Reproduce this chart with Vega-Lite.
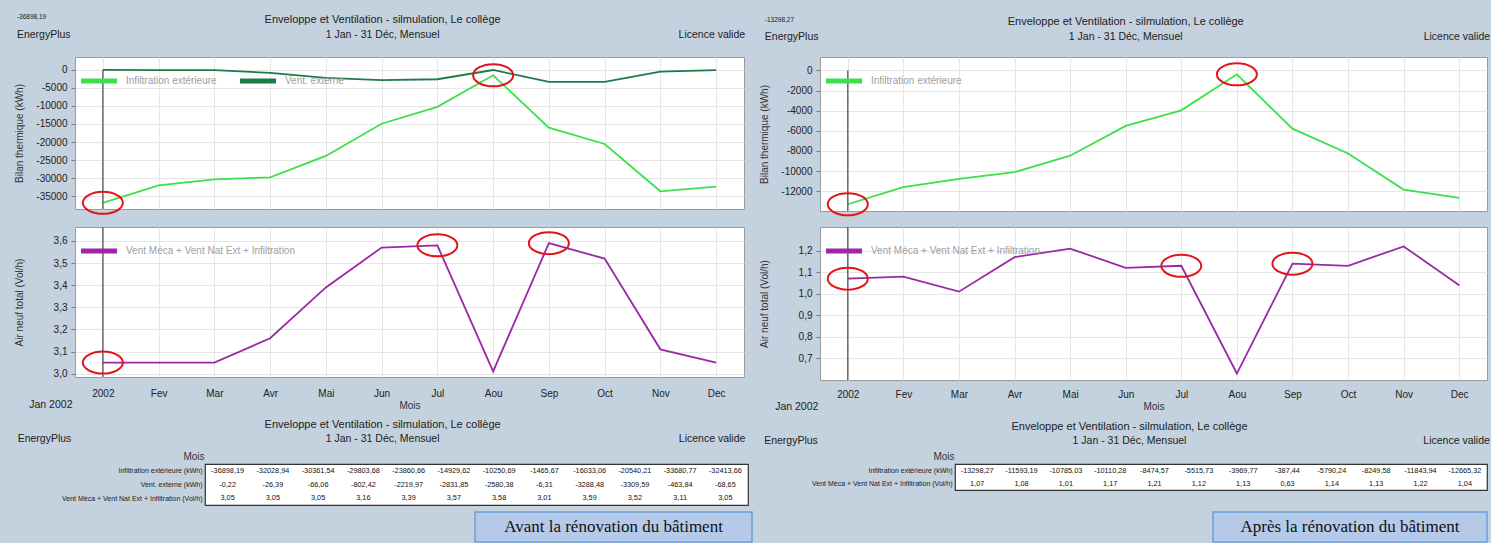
{
  "$schema": "https://vega.github.io/schema/vega-lite/v6.json",
  "background": "#c4d1de",
  "padding": {"left": 10, "top": 13, "right": 0, "bottom": 0},
  "config": {
    "font": "Liberation Sans",
    "locale": {"number": {"decimal": ",", "thousands": "", "grouping": [3], "currency": ["", " €"], "minus": "-"}},
    "view": {"stroke": "#9a9a9a"},
    "axis": {"labelFontSize": 10, "labelColor": "#222", "titleFontSize": 10, "titleFontWeight": "normal", "titleColor": "#333", "tickColor": "#777", "domain": false, "gridColor": "#e6e6e6", "labelOverlap": false},
    "legend": {"orient": "top-left", "direction": "horizontal", "title": null, "symbolType": "stroke", "symbolStrokeWidth": 5, "symbolSize": 1300, "labelFontSize": 10, "labelColor": "#a0a0a0", "labelLimit": 400, "offset": 3, "padding": 0, "columnPadding": 12, "labelOffset": 6},
    "text": {"color": "#222"}
  },
  "datasets": {
    "avant": [
      {"mois": "2002", "serie": "Infiltration extérieure", "v": -36898.19},
      {"mois": "Fev", "serie": "Infiltration extérieure", "v": -32028.94},
      {"mois": "Mar", "serie": "Infiltration extérieure", "v": -30361.54},
      {"mois": "Avr", "serie": "Infiltration extérieure", "v": -29803.68},
      {"mois": "Mai", "serie": "Infiltration extérieure", "v": -23860.66},
      {"mois": "Jun", "serie": "Infiltration extérieure", "v": -14929.62},
      {"mois": "Jul", "serie": "Infiltration extérieure", "v": -10250.69},
      {"mois": "Aou", "serie": "Infiltration extérieure", "v": -1465.67},
      {"mois": "Sep", "serie": "Infiltration extérieure", "v": -16033.06},
      {"mois": "Oct", "serie": "Infiltration extérieure", "v": -20540.21},
      {"mois": "Nov", "serie": "Infiltration extérieure", "v": -33680.77},
      {"mois": "Dec", "serie": "Infiltration extérieure", "v": -32413.66},
      {"mois": "2002", "serie": "Vent. externe", "v": -0.22},
      {"mois": "Fev", "serie": "Vent. externe", "v": -26.39},
      {"mois": "Mar", "serie": "Vent. externe", "v": -66.06},
      {"mois": "Avr", "serie": "Vent. externe", "v": -802.42},
      {"mois": "Mai", "serie": "Vent. externe", "v": -2219.97},
      {"mois": "Jun", "serie": "Vent. externe", "v": -2831.85},
      {"mois": "Jul", "serie": "Vent. externe", "v": -2580.38},
      {"mois": "Aou", "serie": "Vent. externe", "v": -6.31},
      {"mois": "Sep", "serie": "Vent. externe", "v": -3288.48},
      {"mois": "Oct", "serie": "Vent. externe", "v": -3309.59},
      {"mois": "Nov", "serie": "Vent. externe", "v": -463.84},
      {"mois": "Dec", "serie": "Vent. externe", "v": -68.65},
      {"mois": "2002", "serie": "Vent Méca + Vent Nat Ext + Infiltration", "v": 3.05},
      {"mois": "Fev", "serie": "Vent Méca + Vent Nat Ext + Infiltration", "v": 3.05},
      {"mois": "Mar", "serie": "Vent Méca + Vent Nat Ext + Infiltration", "v": 3.05},
      {"mois": "Avr", "serie": "Vent Méca + Vent Nat Ext + Infiltration", "v": 3.16},
      {"mois": "Mai", "serie": "Vent Méca + Vent Nat Ext + Infiltration", "v": 3.39},
      {"mois": "Jun", "serie": "Vent Méca + Vent Nat Ext + Infiltration", "v": 3.57},
      {"mois": "Jul", "serie": "Vent Méca + Vent Nat Ext + Infiltration", "v": 3.58},
      {"mois": "Aou", "serie": "Vent Méca + Vent Nat Ext + Infiltration", "v": 3.01},
      {"mois": "Sep", "serie": "Vent Méca + Vent Nat Ext + Infiltration", "v": 3.59},
      {"mois": "Oct", "serie": "Vent Méca + Vent Nat Ext + Infiltration", "v": 3.52},
      {"mois": "Nov", "serie": "Vent Méca + Vent Nat Ext + Infiltration", "v": 3.11},
      {"mois": "Dec", "serie": "Vent Méca + Vent Nat Ext + Infiltration", "v": 3.05}
    ],
    "apres": [
      {"mois": "2002", "serie": "Infiltration extérieure", "v": -13298.27},
      {"mois": "Fev", "serie": "Infiltration extérieure", "v": -11593.19},
      {"mois": "Mar", "serie": "Infiltration extérieure", "v": -10785.03},
      {"mois": "Avr", "serie": "Infiltration extérieure", "v": -10110.28},
      {"mois": "Mai", "serie": "Infiltration extérieure", "v": -8474.57},
      {"mois": "Jun", "serie": "Infiltration extérieure", "v": -5515.73},
      {"mois": "Jul", "serie": "Infiltration extérieure", "v": -3969.77},
      {"mois": "Aou", "serie": "Infiltration extérieure", "v": -387.44},
      {"mois": "Sep", "serie": "Infiltration extérieure", "v": -5790.24},
      {"mois": "Oct", "serie": "Infiltration extérieure", "v": -8249.58},
      {"mois": "Nov", "serie": "Infiltration extérieure", "v": -11843.94},
      {"mois": "Dec", "serie": "Infiltration extérieure", "v": -12665.32},
      {"mois": "2002", "serie": "Vent Méca + Vent Nat Ext + Infiltration", "v": 1.07},
      {"mois": "Fev", "serie": "Vent Méca + Vent Nat Ext + Infiltration", "v": 1.08},
      {"mois": "Mar", "serie": "Vent Méca + Vent Nat Ext + Infiltration", "v": 1.01},
      {"mois": "Avr", "serie": "Vent Méca + Vent Nat Ext + Infiltration", "v": 1.17},
      {"mois": "Mai", "serie": "Vent Méca + Vent Nat Ext + Infiltration", "v": 1.21},
      {"mois": "Jun", "serie": "Vent Méca + Vent Nat Ext + Infiltration", "v": 1.12},
      {"mois": "Jul", "serie": "Vent Méca + Vent Nat Ext + Infiltration", "v": 1.13},
      {"mois": "Aou", "serie": "Vent Méca + Vent Nat Ext + Infiltration", "v": 0.63},
      {"mois": "Sep", "serie": "Vent Méca + Vent Nat Ext + Infiltration", "v": 1.14},
      {"mois": "Oct", "serie": "Vent Méca + Vent Nat Ext + Infiltration", "v": 1.13},
      {"mois": "Nov", "serie": "Vent Méca + Vent Nat Ext + Infiltration", "v": 1.22},
      {"mois": "Dec", "serie": "Vent Méca + Vent Nat Ext + Infiltration", "v": 1.04}
    ]
  },
  "bounds": "full",
  "spacing": 0,
  "resolve": {"scale": {"color": "independent"}, "legend": {"color": "independent"}},
  "vconcat": [
    {
      "bounds": "flush",
      "spacing": 0,
      "resolve": {"scale": {"color": "independent"}, "legend": {"color": "independent"}},
      "hconcat": [
        {"width": 65, "height": 164, "data": {"values": [{}]}, "mark": {"type": "text", "text": ""}, "view": {"stroke": null}},
        {
          "width": 669,
          "height": 152,
          "data": {"name": "avant"},
          "view": {"stroke": "#9a9a9a", "fill": "white"},
          "layer": [
            {
              "transform": [{"filter": "datum.serie != 'Vent Méca + Vent Nat Ext + Infiltration'"}],
              "mark": {"type": "line", "strokeWidth": 1.8},
              "encoding": {
                "x": {"field": "mois", "type": "ordinal", "scale": {"type": "point", "padding": 0.5, "domain": ["2002", "Fev", "Mar", "Avr", "Mai", "Jun", "Jul", "Aou", "Sep", "Oct", "Nov", "Dec"]}, "axis": {"title": null, "labels": false, "ticks": false, "domain": false, "grid": true, "minExtent": 0, "maxExtent": 0}},
                "y": {"field": "v", "type": "quantitative", "scale": {"domain": [-38600, 3600], "nice": false, "zero": false}, "axis": {"title": "Bilan thermique (kWh)", "values": [0, -5000, -10000, -15000, -20000, -25000, -30000, -35000], "tickCount": 30, "format": "d", "labelOverlap": false, "labelBound": false, "minExtent": 40, "maxExtent": 40, "titlePadding": 11, "tickSize": 4, "labelPadding": 4, "grid": true}},
                "color": {"field": "serie", "type": "nominal", "scale": {"domain": ["Infiltration extérieure", "Vent. externe"], "range": ["#3be04a", "#1e7b46"]}}
              }
            },
            {
              "transform": [{"filter": "datum.mois == '2002' && datum.serie == 'Infiltration extérieure'"}],
              "mark": {"type": "rule", "color": "#555", "strokeWidth": 1.3},
              "encoding": {"x": {"field": "mois", "type": "ordinal"}, "y": {"datum": 0}, "y2": {"datum": -38600}}
            },
            {
              "transform": [{"filter": {"and": [{"field": "serie", "equal": "Infiltration extérieure"}, {"field": "mois", "oneOf": ["2002", "Aou"]}]}}],
              "mark": {"type": "point", "shape": "M -1 0 A 1 0.55 0 1 0 1 0 A 1 0.55 0 1 0 -1 0 Z", "size": 1600, "filled": false, "stroke": "#e3151b", "strokeWidth": 2, "opacity": 1},
              "encoding": {"x": {"field": "mois", "type": "ordinal"}, "y": {"field": "v", "type": "quantitative"}}
            },
            {
              "transform": [{"filter": "datum.mois == '2002' && datum.serie == 'Infiltration extérieure'"}],
              "mark": {"type": "text", "align": "left", "baseline": "middle", "fontSize": 6.5, "dx": -86, "dy": -40},
              "encoding": {"x": {"field": "mois", "type": "ordinal"}, "y": {"datum": 3600}, "text": {"field": "v", "type": "quantitative", "format": ".2f"}}
            },
            {
              "transform": [{"filter": "datum.mois == '2002' && datum.serie == 'Infiltration extérieure'"}],
              "mark": {"type": "text", "align": "left", "baseline": "middle", "fontSize": 10.5, "dx": -86, "dy": -22, "text": "EnergyPlus"},
              "encoding": {"x": {"field": "mois", "type": "ordinal"}, "y": {"datum": 3600}}
            },
            {
              "transform": [{"filter": "datum.mois == 'Jun' && datum.serie == 'Infiltration extérieure'"}],
              "mark": {"type": "text", "align": "center", "baseline": "middle", "fontSize": 11, "dx": 1, "dy": -37, "text": "Enveloppe et Ventilation - silmulation, Le collège"},
              "encoding": {"x": {"field": "mois", "type": "ordinal"}, "y": {"datum": 3600}}
            },
            {
              "transform": [{"filter": "datum.mois == 'Jun' && datum.serie == 'Infiltration extérieure'"}],
              "mark": {"type": "text", "align": "center", "baseline": "middle", "fontSize": 10.5, "dx": 1, "dy": -22, "text": "1 Jan - 31 Déc, Mensuel"},
              "encoding": {"x": {"field": "mois", "type": "ordinal"}, "y": {"datum": 3600}}
            },
            {
              "transform": [{"filter": "datum.mois == 'Dec' && datum.serie == 'Infiltration extérieure'"}],
              "mark": {"type": "text", "align": "right", "baseline": "middle", "fontSize": 10.5, "dx": 29, "dy": -22, "text": "Licence valide"},
              "encoding": {"x": {"field": "mois", "type": "ordinal"}, "y": {"datum": 3600}}
            }
          ]
        },
        {"width": 76, "height": 1, "data": {"values": [{}]}, "mark": {"type": "text", "text": ""}, "view": {"stroke": null}},
        {
          "width": 667,
          "height": 154,
          "data": {"name": "apres"},
          "view": {"stroke": "#9a9a9a", "fill": "white"},
          "layer": [
            {
              "transform": [{"filter": "datum.serie == 'Infiltration extérieure'"}],
              "mark": {"type": "line", "strokeWidth": 1.8},
              "encoding": {
                "x": {"field": "mois", "type": "ordinal", "scale": {"type": "point", "padding": 0.5, "domain": ["2002", "Fev", "Mar", "Avr", "Mai", "Jun", "Jul", "Aou", "Sep", "Oct", "Nov", "Dec"]}, "axis": {"title": null, "labels": false, "ticks": false, "domain": false, "grid": true, "minExtent": 0, "maxExtent": 0}},
                "y": {"field": "v", "type": "quantitative", "scale": {"domain": [-13970, 1330], "nice": false, "zero": false}, "axis": {"title": "Bilan thermique (kWh)", "values": [0, -2000, -4000, -6000, -8000, -10000, -12000], "tickCount": 30, "format": "d", "labelOverlap": false, "labelBound": false, "minExtent": 40, "maxExtent": 40, "titlePadding": 11, "tickSize": 4, "labelPadding": 4, "grid": true}},
                "color": {"field": "serie", "type": "nominal", "scale": {"domain": ["Infiltration extérieure"], "range": ["#3be04a"]}}
              }
            },
            {
              "transform": [{"filter": "datum.mois == '2002' && datum.serie == 'Infiltration extérieure'"}],
              "mark": {"type": "rule", "color": "#555", "strokeWidth": 1.3},
              "encoding": {"x": {"field": "mois", "type": "ordinal"}, "y": {"datum": 0}, "y2": {"datum": -13970}}
            },
            {
              "transform": [{"filter": {"and": [{"field": "serie", "equal": "Infiltration extérieure"}, {"field": "mois", "oneOf": ["2002", "Aou"]}]}}],
              "mark": {"type": "point", "shape": "M -1 0 A 1 0.55 0 1 0 1 0 A 1 0.55 0 1 0 -1 0 Z", "size": 1600, "filled": false, "stroke": "#e3151b", "strokeWidth": 2, "opacity": 1},
              "encoding": {"x": {"field": "mois", "type": "ordinal"}, "y": {"field": "v", "type": "quantitative"}}
            },
            {
              "transform": [{"filter": "datum.mois == '2002' && datum.serie == 'Infiltration extérieure'"}],
              "mark": {"type": "text", "align": "left", "baseline": "middle", "fontSize": 6.5, "dx": -83, "dy": -37},
              "encoding": {"x": {"field": "mois", "type": "ordinal"}, "y": {"datum": 1330}, "text": {"field": "v", "type": "quantitative", "format": ".2f"}}
            },
            {
              "transform": [{"filter": "datum.mois == '2002' && datum.serie == 'Infiltration extérieure'"}],
              "mark": {"type": "text", "align": "left", "baseline": "middle", "fontSize": 10.5, "dx": -83, "dy": -20, "text": "EnergyPlus"},
              "encoding": {"x": {"field": "mois", "type": "ordinal"}, "y": {"datum": 1330}}
            },
            {
              "transform": [{"filter": "datum.mois == 'Jun' && datum.serie == 'Infiltration extérieure'"}],
              "mark": {"type": "text", "align": "center", "baseline": "middle", "fontSize": 11, "dx": 0, "dy": -35, "text": "Enveloppe et Ventilation - silmulation, Le collège"},
              "encoding": {"x": {"field": "mois", "type": "ordinal"}, "y": {"datum": 1330}}
            },
            {
              "transform": [{"filter": "datum.mois == 'Jun' && datum.serie == 'Infiltration extérieure'"}],
              "mark": {"type": "text", "align": "center", "baseline": "middle", "fontSize": 10.5, "dx": 0, "dy": -20, "text": "1 Jan - 31 Déc, Mensuel"},
              "encoding": {"x": {"field": "mois", "type": "ordinal"}, "y": {"datum": 1330}}
            },
            {
              "transform": [{"filter": "datum.mois == 'Dec' && datum.serie == 'Infiltration extérieure'"}],
              "mark": {"type": "text", "align": "right", "baseline": "middle", "fontSize": 10.5, "dx": 31, "dy": -20, "text": "Licence valide"},
              "encoding": {"x": {"field": "mois", "type": "ordinal"}, "y": {"datum": 1330}}
            }
          ]
        }
      ]
    },
    {
      "bounds": "flush",
      "spacing": 0,
      "resolve": {"scale": {"color": "independent"}, "legend": {"color": "independent"}},
      "hconcat": [
        {"width": 65, "height": 191, "data": {"values": [{}]}, "mark": {"type": "text", "text": ""}, "view": {"stroke": null}},
        {
          "width": 669,
          "height": 150,
          "data": {"name": "avant"},
          "view": {"stroke": "#9a9a9a", "fill": "white"},
          "layer": [
            {
              "transform": [{"filter": "datum.serie == 'Vent Méca + Vent Nat Ext + Infiltration'"}],
              "mark": {"type": "line", "strokeWidth": 1.8},
              "encoding": {
                "x": {"field": "mois", "type": "ordinal", "scale": {"type": "point", "padding": 0.5, "domain": ["2002", "Fev", "Mar", "Avr", "Mai", "Jun", "Jul", "Aou", "Sep", "Oct", "Nov", "Dec"]}, "axis": {"title": "Mois", "labelAngle": 0, "ticks": false, "domain": false, "grid": true, "labelPadding": 11, "titlePadding": 2}},
                "y": {"field": "v", "type": "quantitative", "scale": {"domain": [2.985, 3.663], "nice": false, "zero": false}, "axis": {"title": "Air neuf total (Vol/h)", "values": [3.0, 3.1, 3.2, 3.3, 3.4, 3.5, 3.6], "tickCount": 30, "format": ".1f", "labelOverlap": false, "labelBound": false, "minExtent": 40, "maxExtent": 40, "titlePadding": 11, "tickSize": 4, "labelPadding": 4, "grid": true}},
                "color": {"field": "serie", "type": "nominal", "scale": {"domain": ["Vent Méca + Vent Nat Ext + Infiltration"], "range": ["#9c27a8"]}}
              }
            },
            {
              "transform": [{"filter": "datum.mois == '2002' && datum.serie == 'Vent Méca + Vent Nat Ext + Infiltration'"}],
              "mark": {"type": "rule", "color": "#555", "strokeWidth": 1.3},
              "encoding": {"x": {"field": "mois", "type": "ordinal"}}
            },
            {
              "transform": [{"filter": {"and": [{"field": "serie", "equal": "Vent Méca + Vent Nat Ext + Infiltration"}, {"field": "mois", "oneOf": ["2002", "Jul", "Sep"]}]}}],
              "mark": {"type": "point", "shape": "M -1 0 A 1 0.55 0 1 0 1 0 A 1 0.55 0 1 0 -1 0 Z", "size": 1600, "filled": false, "stroke": "#e3151b", "strokeWidth": 2, "opacity": 1},
              "encoding": {"x": {"field": "mois", "type": "ordinal"}, "y": {"field": "v", "type": "quantitative"}}
            },
            {
              "transform": [{"filter": "datum.mois == '2002' && datum.serie == 'Vent Méca + Vent Nat Ext + Infiltration'"}],
              "mark": {"type": "text", "align": "center", "baseline": "middle", "fontSize": 10.5, "dx": -52, "dy": 28, "text": "Jan  2002"},
              "encoding": {"x": {"field": "mois", "type": "ordinal"}, "y": {"datum": 2.985}}
            }
          ]
        },
        {"width": 76, "height": 1, "data": {"values": [{}]}, "mark": {"type": "text", "text": ""}, "view": {"stroke": null}},
        {
          "width": 667,
          "height": 153,
          "data": {"name": "apres"},
          "view": {"stroke": "#9a9a9a", "fill": "white"},
          "layer": [
            {
              "transform": [{"filter": "datum.serie == 'Vent Méca + Vent Nat Ext + Infiltration'"}],
              "mark": {"type": "line", "strokeWidth": 1.8},
              "encoding": {
                "x": {"field": "mois", "type": "ordinal", "scale": {"type": "point", "padding": 0.5, "domain": ["2002", "Fev", "Mar", "Avr", "Mai", "Jun", "Jul", "Aou", "Sep", "Oct", "Nov", "Dec"]}, "axis": {"title": "Mois", "labelAngle": 0, "ticks": false, "domain": false, "grid": true, "labelPadding": 9, "titlePadding": 2}},
                "y": {"field": "v", "type": "quantitative", "scale": {"domain": [0.6, 1.31], "nice": false, "zero": false}, "axis": {"title": "Air neuf total (Vol/h)", "values": [0.7, 0.8, 0.9, 1.0, 1.1, 1.2], "tickCount": 30, "format": ".1f", "labelOverlap": false, "labelBound": false, "minExtent": 40, "maxExtent": 40, "titlePadding": 11, "tickSize": 4, "labelPadding": 4, "grid": true}},
                "color": {"field": "serie", "type": "nominal", "scale": {"domain": ["Vent Méca + Vent Nat Ext + Infiltration"], "range": ["#9c27a8"]}}
              }
            },
            {
              "transform": [{"filter": "datum.mois == '2002' && datum.serie == 'Vent Méca + Vent Nat Ext + Infiltration'"}],
              "mark": {"type": "rule", "color": "#555", "strokeWidth": 1.3},
              "encoding": {"x": {"field": "mois", "type": "ordinal"}}
            },
            {
              "transform": [{"filter": {"and": [{"field": "serie", "equal": "Vent Méca + Vent Nat Ext + Infiltration"}, {"field": "mois", "oneOf": ["2002", "Jul", "Sep"]}]}}],
              "mark": {"type": "point", "shape": "M -1 0 A 1 0.55 0 1 0 1 0 A 1 0.55 0 1 0 -1 0 Z", "size": 1600, "filled": false, "stroke": "#e3151b", "strokeWidth": 2, "opacity": 1},
              "encoding": {"x": {"field": "mois", "type": "ordinal"}, "y": {"field": "v", "type": "quantitative"}}
            },
            {
              "transform": [{"filter": "datum.mois == '2002' && datum.serie == 'Vent Méca + Vent Nat Ext + Infiltration'"}],
              "mark": {"type": "text", "align": "center", "baseline": "middle", "fontSize": 10.5, "dx": -51, "dy": 27, "text": "Jan  2002"},
              "encoding": {"x": {"field": "mois", "type": "ordinal"}, "y": {"datum": 0.6}}
            }
          ]
        }
      ]
    },
    {
      "bounds": "flush",
      "spacing": 0,
      "hconcat": [
        {"width": 195, "height": 41, "data": {"values": [{}]}, "mark": {"type": "text", "text": ""}, "view": {"stroke": null}},
        {
          "width": 543,
          "height": 41,
          "data": {"name": "avant"},
          "view": {"fill": "white", "stroke": "#333", "strokeWidth": 1.2},
          "encoding": {
            "x": {"field": "mois", "type": "ordinal", "scale": {"type": "band", "paddingInner": 0, "paddingOuter": 0, "domain": ["2002", "Fev", "Mar", "Avr", "Mai", "Jun", "Jul", "Aou", "Sep", "Oct", "Nov", "Dec"]}, "axis": null},
            "y": {"field": "serie", "type": "nominal", "scale": {"domain": ["Infiltration extérieure", "Vent. externe", "Vent Méca + Vent Nat Ext + Infiltration"], "paddingInner": 0, "paddingOuter": 0.35}, "axis": {"title": "Mois", "titleAngle": 0, "titleAlign": "right", "titleBaseline": "bottom", "titleX": -1, "titleY": -3, "labelFontSize": 7, "ticks": false, "domain": false, "grid": false, "labelPadding": 3, "labelExpr": "datum.label == 'Vent Méca + Vent Nat Ext + Infiltration' ? datum.label + ' (Vol/h)' : datum.label + ' (kWh)'"}}
          },
          "layer": [
            {"mark": {"type": "text", "fontSize": 7.3, "color": "#111"}, "encoding": {"text": {"field": "v", "type": "quantitative", "format": ".2f"}}},
            {
              "transform": [{"filter": "datum.mois == '2002' && datum.serie == 'Infiltration extérieure'"}],
              "mark": {"type": "text", "align": "left", "fontSize": 10.5, "dx": -210, "dy": -32, "text": "EnergyPlus"}
            },
            {
              "transform": [{"filter": "datum.mois == 'Mai' && datum.serie == 'Infiltration extérieure'"}],
              "mark": {"type": "text", "align": "center", "fontSize": 11, "dx": -26, "dy": -46, "text": "Enveloppe et Ventilation - silmulation, Le collège"}
            },
            {
              "transform": [{"filter": "datum.mois == 'Mai' && datum.serie == 'Infiltration extérieure'"}],
              "mark": {"type": "text", "align": "center", "fontSize": 10.5, "dx": -26, "dy": -32, "text": "1 Jan - 31 Déc, Mensuel"}
            },
            {
              "transform": [{"filter": "datum.mois == 'Dec' && datum.serie == 'Infiltration extérieure'"}],
              "mark": {"type": "text", "align": "right", "fontSize": 10.5, "dx": 20, "dy": -32, "text": "Licence valide"}
            }
          ]
        },
        {"width": 207, "height": 1, "data": {"values": [{}]}, "mark": {"type": "text", "text": ""}, "view": {"stroke": null}},
        {
          "width": 532,
          "height": 26,
          "data": {"name": "apres"},
          "view": {"fill": "white", "stroke": "#333", "strokeWidth": 1.2},
          "encoding": {
            "x": {"field": "mois", "type": "ordinal", "scale": {"type": "band", "paddingInner": 0, "paddingOuter": 0, "domain": ["2002", "Fev", "Mar", "Avr", "Mai", "Jun", "Jul", "Aou", "Sep", "Oct", "Nov", "Dec"]}, "axis": null},
            "y": {"field": "serie", "type": "nominal", "scale": {"domain": ["Infiltration extérieure", "Vent Méca + Vent Nat Ext + Infiltration"], "paddingInner": 0, "paddingOuter": 0.1}, "axis": {"title": "Mois", "titleAngle": 0, "titleAlign": "right", "titleBaseline": "bottom", "titleX": -1, "titleY": -3, "labelFontSize": 7, "ticks": false, "domain": false, "grid": false, "labelPadding": 3, "labelExpr": "datum.label == 'Vent Méca + Vent Nat Ext + Infiltration' ? datum.label + ' (Vol/h)' : datum.label + ' (kWh)'"}}
          },
          "layer": [
            {"mark": {"type": "text", "fontSize": 7.3, "color": "#111"}, "encoding": {"text": {"field": "v", "type": "quantitative", "format": ".2f"}}},
            {
              "transform": [{"filter": "datum.mois == '2002' && datum.serie == 'Infiltration extérieure'"}],
              "mark": {"type": "text", "align": "left", "fontSize": 10.5, "dx": -213, "dy": -30, "text": "EnergyPlus"}
            },
            {
              "transform": [{"filter": "datum.mois == 'Mai' && datum.serie == 'Infiltration extérieure'"}],
              "mark": {"type": "text", "align": "center", "fontSize": 11, "dx": -25, "dy": -44, "text": "Enveloppe et Ventilation - silmulation, Le collège"}
            },
            {
              "transform": [{"filter": "datum.mois == 'Mai' && datum.serie == 'Infiltration extérieure'"}],
              "mark": {"type": "text", "align": "center", "fontSize": 10.5, "dx": -25, "dy": -30, "text": "1 Jan - 31 Déc, Mensuel"}
            },
            {
              "transform": [{"filter": "datum.mois == 'Dec' && datum.serie == 'Infiltration extérieure'"}],
              "mark": {"type": "text", "align": "right", "fontSize": 10.5, "dx": 25, "dy": -30, "text": "Licence valide"}
            }
          ]
        }
      ]
    },
    {
      "bounds": "flush",
      "spacing": 0,
      "hconcat": [
        {"width": 465, "height": 1, "data": {"values": [{}]}, "mark": {"type": "text", "text": ""}, "view": {"stroke": null}},
        {
          "width": 277,
          "height": 30,
          "data": {"values": [{"t": "Avant la rénovation du bâtiment"}]},
          "view": {"fill": "#b5c9e9", "stroke": "#6f9fd6", "strokeWidth": 1.5},
          "mark": {"type": "text", "font": "Liberation Serif", "fontSize": 17, "color": "#111"},
          "encoding": {"text": {"field": "t"}}
        },
        {"width": 461, "height": 1, "data": {"values": [{}]}, "mark": {"type": "text", "text": ""}, "view": {"stroke": null}},
        {
          "width": 274,
          "height": 30,
          "data": {"values": [{"t": "Après la rénovation du bâtiment"}]},
          "view": {"fill": "#b5c9e9", "stroke": "#6f9fd6", "strokeWidth": 1.5},
          "mark": {"type": "text", "font": "Liberation Serif", "fontSize": 17, "color": "#111"},
          "encoding": {"text": {"field": "t"}}
        }
      ]
    }
  ]
}
